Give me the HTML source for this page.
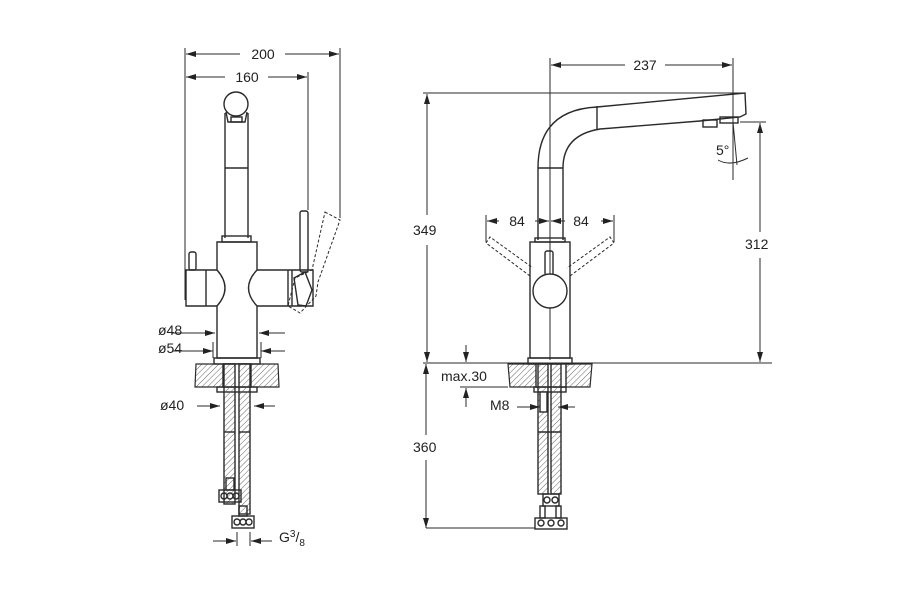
<!DOCTYPE html>
<html><head><style>
html,body{margin:0;padding:0;background:#fff;}
svg{display:block;}
text{font-family:"Liberation Sans",sans-serif;font-size:14px;fill:#222;}
</style></head><body>
<svg width="900" height="600" viewBox="0 0 900 600" xmlns="http://www.w3.org/2000/svg">
<defs>
<pattern id="h" width="4" height="4" patternUnits="userSpaceOnUse" patternTransform="rotate(45)">
<line x1="0" y1="0" x2="0" y2="4" stroke="#555" stroke-width="0.9"/>
</pattern>
<marker id="a" markerWidth="10" markerHeight="6" refX="10" refY="3" orient="auto" markerUnits="userSpaceOnUse">
<path d="M0,0 L10,3 L0,6z" fill="#222"/>
</marker>
</defs>
<g stroke="#2a2a2a" stroke-width="1.4" fill="none">
<!-- LEFT VIEW dims -->
<g stroke-width="1">
<line x1="185" y1="48" x2="185" y2="300"/>
<line x1="340" y1="48" x2="340" y2="218"/>
<line x1="308" y1="72" x2="308" y2="210"/>
<line x1="240" y1="54" x2="186" y2="54" marker-end="url(#a)"/>
<line x1="285" y1="54" x2="339" y2="54" marker-end="url(#a)"/>
<line x1="225" y1="77" x2="186" y2="77" marker-end="url(#a)"/>
<line x1="268" y1="77" x2="307" y2="77" marker-end="url(#a)"/>
</g>
<!-- spout -->
<circle cx="236" cy="104" r="12"/>
<path d="M226,112 L228,122 L245,122 L247,112"/>
<rect x="231" y="117" width="11" height="5"/>
<line x1="225" y1="113" x2="225" y2="238"/>
<line x1="248" y1="113" x2="248" y2="238"/>
<line x1="225" y1="168" x2="248" y2="168"/>
<rect x="222" y="236" width="29" height="6"/>
<!-- body -->
<path d="M217,242 L257,242 L257,270 Q240,288 257,306 L257,358 L217,358 L217,306 Q233,288 217,270 Z"/>
<path d="M217,270 L186,270 L186,306 L217,306"/>
<line x1="206" y1="270" x2="206" y2="306"/>
<path d="M257,270 L313,270 L313,306 L257,306"/>
<line x1="288" y1="270" x2="288" y2="306"/>
<line x1="292" y1="270" x2="292" y2="306"/>
<rect x="189" y="252" width="7" height="18" rx="2"/>
<rect x="300" y="211" width="8" height="61" rx="2"/>
<path d="M294,278 L305,272 L312,290 L306,306 L298,305Z"/>
<g stroke-dasharray="3,2" stroke-width="1">
<path d="M325,212 L340,220 L318,282 L316,296 L300,313 L288,306 L295,278 L312,270 Z"/>
</g>
<rect x="214" y="358" width="46" height="6"/>
<!-- dims below -->
<g stroke-width="1">
<line x1="172" y1="333" x2="215" y2="333" marker-end="url(#a)"/>
<line x1="285" y1="333" x2="259" y2="333" marker-end="url(#a)"/>
<line x1="172" y1="351" x2="213" y2="351" marker-end="url(#a)"/>
<line x1="285" y1="351" x2="261" y2="351" marker-end="url(#a)"/>
<line x1="213" y1="342" x2="213" y2="358"/><line x1="261" y1="342" x2="261" y2="358"/>
</g>
<!-- countertop left -->
<path d="M196,364 L278,364 L279,387 L195,387Z" fill="url(#h)" stroke-width="1.2"/>
<rect x="223" y="364" width="28" height="23" fill="#fff"/>
<rect x="217" y="387" width="40" height="5"/>
<rect x="224" y="364" width="11" height="140" fill="url(#h)"/>
<rect x="239" y="364" width="11" height="150" fill="url(#h)"/>
<line x1="224" y1="432" x2="235" y2="432"/><line x1="239" y1="432" x2="250" y2="432"/>
<rect x="226" y="478" width="8" height="12"/>
<rect x="219" y="490" width="22" height="12"/>
<circle cx="224" cy="496" r="3"/><circle cx="230" cy="496" r="3"/><circle cx="236" cy="496" r="3"/>
<rect x="239" y="506" width="8" height="10"/>
<rect x="232" y="516" width="22" height="12"/>
<circle cx="237" cy="522" r="3"/><circle cx="243" cy="522" r="3"/><circle cx="249" cy="522" r="3"/>
<g stroke-width="1">
<line x1="197" y1="406" x2="220" y2="406" marker-end="url(#a)"/>
<line x1="275" y1="406" x2="254" y2="406" marker-end="url(#a)"/>
<line x1="213" y1="541" x2="236" y2="541" marker-end="url(#a)"/>
<line x1="272" y1="541" x2="251" y2="541" marker-end="url(#a)"/>
<line x1="237" y1="532" x2="237" y2="546"/><line x1="250" y1="532" x2="250" y2="546"/>
</g>

<!-- RIGHT VIEW -->
<g stroke-width="1">
<line x1="550" y1="58" x2="550" y2="360"/>
<line x1="733" y1="58" x2="733" y2="180"/>
<line x1="625" y1="65" x2="551" y2="65" marker-end="url(#a)"/>
<line x1="665" y1="65" x2="732" y2="65" marker-end="url(#a)"/>
<line x1="423" y1="93" x2="745" y2="93"/>
<line x1="427" y1="215" x2="427" y2="94" marker-end="url(#a)"/>
<line x1="427" y1="245" x2="427" y2="362" marker-end="url(#a)"/>
<line x1="740" y1="122" x2="766" y2="122"/>
<line x1="760" y1="232" x2="760" y2="123" marker-end="url(#a)"/>
<line x1="760" y1="258" x2="760" y2="362" marker-end="url(#a)"/>
<line x1="423" y1="363" x2="772" y2="363"/>
</g>
<!-- spout -->
<path d="M538,240 L538,168 Q538,110 597,107 L745,93 L746,114 L740,117 L700,121 L600,129 Q563,135 563,168 L563,240"/>
<line x1="597" y1="106" x2="597" y2="129"/>
<line x1="538" y1="168" x2="563" y2="168"/>
<rect x="703" y="120" width="14" height="7"/>
<rect x="720" y="117" width="18" height="6"/>
<line x1="733" y1="122" x2="737" y2="165" stroke-width="1"/>
<path d="M718,160 Q730,167 748,158" stroke-width="1"/>
<!-- body -->
<rect x="535" y="238" width="30" height="4"/>
<rect x="530" y="242" width="40" height="116"/>
<rect x="545" y="251" width="8" height="24" rx="2"/>
<circle cx="550" cy="291" r="17" fill="#fff"/>
<g stroke-dasharray="3,2" stroke-width="1">
<path d="M530,276 L486,243 L490,237 L533,268"/>
<path d="M570,276 L614,243 L610,237 L567,268"/>
</g>
<g stroke-width="1">
<line x1="486" y1="215" x2="486" y2="242"/><line x1="614" y1="215" x2="614" y2="242"/>
<line x1="499" y1="221" x2="487" y2="221" marker-end="url(#a)"/>
<line x1="535" y1="221" x2="549" y2="221" marker-end="url(#a)"/>
<line x1="565" y1="221" x2="551" y2="221" marker-end="url(#a)"/>
<line x1="601" y1="221" x2="613" y2="221" marker-end="url(#a)"/>
</g>
<rect x="528" y="358" width="44" height="6"/>
<!-- countertop right -->
<path d="M508,364 L592,364 L590,387 L510,387Z" fill="url(#h)" stroke-width="1.2"/>
<rect x="536" y="364" width="30" height="23" fill="#fff"/>
<rect x="534" y="387" width="32" height="5"/>
<rect x="538" y="364" width="10" height="130" fill="url(#h)"/>
<rect x="551" y="364" width="10" height="130" fill="url(#h)"/>
<rect x="540" y="392" width="7" height="20" fill="#fff"/>
<line x1="538" y1="432" x2="561" y2="432"/>
<rect x="543" y="494" width="16" height="12"/>
<circle cx="547" cy="500" r="3"/><circle cx="555" cy="500" r="3"/>
<rect x="540" y="506" width="5" height="12"/><rect x="556" y="506" width="5" height="12"/>
<rect x="535" y="518" width="32" height="11"/>
<circle cx="541" cy="523" r="3"/><circle cx="551" cy="523" r="3"/><circle cx="561" cy="523" r="3"/>
<!-- max.30 / M8 / 360 -->
<g stroke-width="1">
<line x1="466" y1="345" x2="466" y2="362" marker-end="url(#a)"/>
<line x1="466" y1="407" x2="466" y2="388" marker-end="url(#a)"/>
<line x1="460" y1="387" x2="508" y2="387"/>
<line x1="517" y1="407" x2="540" y2="407" marker-end="url(#a)"/>
<line x1="575" y1="407" x2="558" y2="407" marker-end="url(#a)"/>
<line x1="426" y1="435" x2="426" y2="364" marker-end="url(#a)"/>
<line x1="426" y1="460" x2="426" y2="528" marker-end="url(#a)"/>
<line x1="426" y1="528" x2="535" y2="528"/>
</g>
</g>
<g>
<text x="263" y="59" text-anchor="middle">200</text>
<text x="247" y="82" text-anchor="middle">160</text>
<text x="158" y="335">ø48</text>
<text x="158" y="353">ø54</text>
<text x="160" y="410">ø40</text>
<text x="279" y="542">G<tspan font-size="10" dy="-5">3</tspan><tspan dy="5">/</tspan><tspan font-size="10" dy="4">8</tspan></text>
<text x="645" y="70" text-anchor="middle">237</text>
<text x="413" y="235">349</text>
<text x="745" y="249">312</text>
<text x="716" y="155" font-size="12">5°</text>
<text x="517" y="226" text-anchor="middle">84</text>
<text x="581" y="226" text-anchor="middle">84</text>
<text x="441" y="381">max.30</text>
<text x="490" y="410">M8</text>
<text x="413" y="452">360</text>
</g>
</svg>
</body></html>
